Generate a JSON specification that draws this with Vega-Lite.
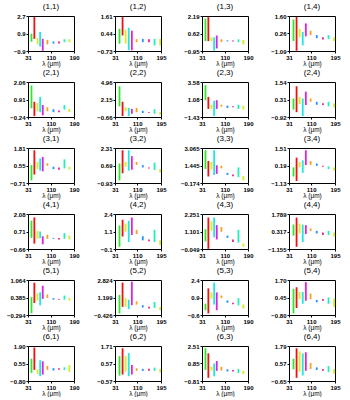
{
"$schema":"https://vega.github.io/schema/vega-lite/v6.json",
"padding":{"left":5,"top":2,"right":0,"bottom":0},
"background":"white",
"config":{
 "view":{"stroke":"black","strokeWidth":1},
 "range":{"category":["#2ee82e","#ee1111","#f2e41c","#22e5e5","#e020e0","#f5a020","#1e90ff","#f0209a","#22eebb","#ccee22"]},
 "axis":{"grid":false,"domain":false,"labelFont":"Liberation Sans","labelFontSize":6,"labelFontWeight":"bold","labelColor":"black","tickColor":"black","tickSize":2,"labelPadding":1,"titleFont":"Liberation Sans","titleFontSize":6.5,"titleFontWeight":"normal","titleColor":"black","titlePadding":0,"labelOverlap":false,"labelBound":false,"labelFlush":false},
 "title":{"font":"Liberation Sans","fontSize":8,"fontWeight":"normal","color":"black","offset":2},
 "rule":{"strokeWidth":1.8}
},
"datasets":{"d":[
{"p":"11","x":43,"lo":0.05,"hi":0.88,"k":1},{"p":"11","x":53,"lo":0.35,"hi":2.59,"k":2},{"p":"11","x":64,"lo":-0.22,"hi":0.43,"k":3},{"p":"11","x":73,"lo":-0.45,"hi":1.07,"k":4},{"p":"11","x":82,"lo":-0.88,"hi":0.35,"k":5},{"p":"11","x":98,"lo":-0.22,"hi":0.24,"k":6},{"p":"11","x":119,"lo":-0.14,"hi":0.08,"k":7},{"p":"11","x":138,"lo":-0.14,"hi":0.08,"k":8},{"p":"11","x":157,"lo":0.0,"hi":0.31,"k":9},{"p":"11","x":174,"lo":0.0,"hi":0.31,"k":10},
{"p":"12","x":47,"lo":-0.24,"hi":0.75,"k":1},{"p":"12","x":58,"lo":0.31,"hi":1.54,"k":2},{"p":"12","x":69,"lo":-0.24,"hi":0.68,"k":3},{"p":"12","x":80,"lo":-0.68,"hi":0.82,"k":4},{"p":"12","x":91,"lo":-0.68,"hi":0.63,"k":5},{"p":"12","x":108,"lo":-0.14,"hi":0.06,"k":6},{"p":"12","x":130,"lo":-0.14,"hi":0.08,"k":7},{"p":"12","x":152,"lo":-0.14,"hi":0.06,"k":8},{"p":"12","x":172,"lo":-0.36,"hi":0.08,"k":9},{"p":"12","x":192,"lo":-0.36,"hi":0.08,"k":10},
{"p":"13","x":43,"lo":-0.06,"hi":1.96,"k":1},{"p":"13","x":53,"lo":-0.06,"hi":2.09,"k":2},{"p":"13","x":64,"lo":-0.06,"hi":0.27,"k":3},{"p":"13","x":73,"lo":-0.93,"hi":0.27,"k":4},{"p":"13","x":82,"lo":-0.72,"hi":0.44,"k":5},{"p":"13","x":98,"lo":-0.16,"hi":0.10,"k":6},{"p":"13","x":119,"lo":-0.09,"hi":0.0,"k":7},{"p":"13","x":138,"lo":-0.09,"hi":0.0,"k":8},{"p":"13","x":157,"lo":-0.16,"hi":0.10,"k":9},{"p":"13","x":174,"lo":-0.36,"hi":0.04,"k":10},
{"p":"14","x":47,"lo":-0.32,"hi":1.32,"k":1},{"p":"14","x":58,"lo":-1.07,"hi":1.52,"k":2},{"p":"14","x":69,"lo":-0.04,"hi":0.61,"k":3},{"p":"14","x":80,"lo":-0.66,"hi":0.38,"k":4},{"p":"14","x":91,"lo":0.04,"hi":1.03,"k":5},{"p":"14","x":108,"lo":0.13,"hi":0.47,"k":6},{"p":"14","x":130,"lo":-0.10,"hi":0.13,"k":7},{"p":"14","x":152,"lo":-0.21,"hi":-0.04,"k":8},{"p":"14","x":172,"lo":-0.18,"hi":0.13,"k":9},{"p":"14","x":192,"lo":-0.32,"hi":-0.04,"k":10},
{"p":"21","x":43,"lo":0.33,"hi":1.83,"k":1},{"p":"21","x":53,"lo":-0.18,"hi":0.76,"k":2},{"p":"21","x":64,"lo":0.14,"hi":0.68,"k":3},{"p":"21","x":73,"lo":0.08,"hi":1.08,"k":4},{"p":"21","x":82,"lo":-0.13,"hi":0.55,"k":5},{"p":"21","x":98,"lo":0.14,"hi":0.40,"k":6},{"p":"21","x":119,"lo":0.08,"hi":0.27,"k":7},{"p":"21","x":138,"lo":0.08,"hi":0.19,"k":8},{"p":"21","x":157,"lo":0.25,"hi":0.55,"k":9},{"p":"21","x":174,"lo":0.08,"hi":0.29,"k":10},
{"p":"22","x":47,"lo":1.06,"hi":4.28,"k":1},{"p":"22","x":58,"lo":-0.5,"hi":1.79,"k":2},{"p":"22","x":69,"lo":0.28,"hi":0.9,"k":3},{"p":"22","x":80,"lo":-0.5,"hi":0.8,"k":4},{"p":"22","x":91,"lo":-0.14,"hi":0.64,"k":5},{"p":"22","x":108,"lo":0.12,"hi":0.8,"k":6},{"p":"22","x":130,"lo":-0.03,"hi":0.33,"k":7},{"p":"22","x":152,"lo":-0.03,"hi":0.12,"k":8},{"p":"22","x":172,"lo":-0.14,"hi":0.59,"k":9},{"p":"22","x":192,"lo":-0.29,"hi":0.12,"k":10},
{"p":"23","x":43,"lo":0.98,"hi":3.12,"k":1},{"p":"23","x":53,"lo":-0.27,"hi":1.45,"k":2},{"p":"23","x":64,"lo":-0.27,"hi":0.33,"k":3},{"p":"23","x":73,"lo":-1.29,"hi":0.89,"k":4},{"p":"23","x":82,"lo":-0.27,"hi":0.98,"k":5},{"p":"23","x":98,"lo":0.05,"hi":0.33,"k":6},{"p":"23","x":119,"lo":-0.13,"hi":0.19,"k":7},{"p":"23","x":138,"lo":-0.04,"hi":0.10,"k":8},{"p":"23","x":157,"lo":-0.27,"hi":0.33,"k":9},{"p":"23","x":174,"lo":-0.36,"hi":0.19,"k":10},
{"p":"24","x":47,"lo":-0.4,"hi":0.38,"k":1},{"p":"24","x":58,"lo":-0.58,"hi":1.24,"k":2},{"p":"24","x":69,"lo":-0.01,"hi":0.49,"k":3},{"p":"24","x":80,"lo":-0.85,"hi":0.38,"k":4},{"p":"24","x":91,"lo":-0.08,"hi":0.86,"k":5},{"p":"24","x":108,"lo":0.15,"hi":0.38,"k":6},{"p":"24","x":130,"lo":-0.06,"hi":0.15,"k":7},{"p":"24","x":152,"lo":-0.08,"hi":0.04,"k":8},{"p":"24","x":172,"lo":-0.17,"hi":0.15,"k":9},{"p":"24","x":192,"lo":-0.24,"hi":0.04,"k":10},
{"p":"31","x":43,"lo":-0.52,"hi":0.58,"k":1},{"p":"31","x":53,"lo":-0.1,"hi":1.65,"k":2},{"p":"31","x":64,"lo":0.29,"hi":0.81,"k":3},{"p":"31","x":73,"lo":0.18,"hi":1.06,"k":4},{"p":"31","x":82,"lo":0.13,"hi":1.16,"k":5},{"p":"31","x":98,"lo":0.53,"hi":0.71,"k":6},{"p":"31","x":119,"lo":0.29,"hi":0.46,"k":7},{"p":"31","x":138,"lo":0.25,"hi":0.41,"k":8},{"p":"31","x":157,"lo":0.34,"hi":0.99,"k":9},{"p":"31","x":174,"lo":0.25,"hi":0.46,"k":10},
{"p":"32","x":47,"lo":-0.69,"hi":0.87,"k":1},{"p":"32","x":58,"lo":-0.03,"hi":2.1,"k":2},{"p":"32","x":69,"lo":0.57,"hi":1.02,"k":3},{"p":"32","x":80,"lo":0.21,"hi":2.1,"k":4},{"p":"32","x":91,"lo":0.3,"hi":1.56,"k":5},{"p":"32","x":108,"lo":0.75,"hi":1.02,"k":6},{"p":"32","x":130,"lo":0.51,"hi":0.72,"k":7},{"p":"32","x":152,"lo":0.42,"hi":0.51,"k":8},{"p":"32","x":172,"lo":0.27,"hi":0.96,"k":9},{"p":"32","x":192,"lo":0.06,"hi":0.36,"k":10},
{"p":"33","x":43,"lo":1.12,"hi":2.86,"k":1},{"p":"33","x":53,"lo":0.43,"hi":1.87,"k":2},{"p":"33","x":64,"lo":1.06,"hi":1.78,"k":3},{"p":"33","x":73,"lo":0.57,"hi":2.86,"k":4},{"p":"33","x":82,"lo":0.67,"hi":1.47,"k":5},{"p":"33","x":98,"lo":1.18,"hi":1.42,"k":6},{"p":"33","x":119,"lo":0.57,"hi":0.76,"k":7},{"p":"33","x":138,"lo":0.46,"hi":0.61,"k":8},{"p":"33","x":157,"lo":0.37,"hi":1.27,"k":9},{"p":"33","x":174,"lo":0.07,"hi":0.46,"k":10},
{"p":"34","x":47,"lo":-0.64,"hi":0.05,"k":1},{"p":"34","x":58,"lo":-0.98,"hi":0.78,"k":2},{"p":"34","x":69,"lo":0.05,"hi":0.46,"k":3},{"p":"34","x":80,"lo":-0.37,"hi":0.58,"k":4},{"p":"34","x":91,"lo":0.22,"hi":1.34,"k":5},{"p":"34","x":108,"lo":0.24,"hi":0.53,"k":6},{"p":"34","x":130,"lo":0.17,"hi":0.34,"k":7},{"p":"34","x":152,"lo":0.09,"hi":0.17,"k":8},{"p":"34","x":172,"lo":-0.08,"hi":0.12,"k":9},{"p":"34","x":192,"lo":-0.2,"hi":0.05,"k":10},
{"p":"41","x":43,"lo":0.21,"hi":1.56,"k":1},{"p":"41","x":53,"lo":-0.24,"hi":1.81,"k":2},{"p":"41","x":64,"lo":0.14,"hi":0.76,"k":3},{"p":"41","x":73,"lo":0.19,"hi":0.71,"k":4},{"p":"41","x":82,"lo":-0.29,"hi":0.34,"k":5},{"p":"41","x":98,"lo":0.14,"hi":0.46,"k":6},{"p":"41","x":119,"lo":0.14,"hi":0.21,"k":7},{"p":"41","x":138,"lo":0.09,"hi":0.21,"k":8},{"p":"41","x":157,"lo":0.14,"hi":0.59,"k":9},{"p":"41","x":174,"lo":0.09,"hi":0.39,"k":10},
{"p":"42","x":47,"lo":0.06,"hi":1.58,"k":1},{"p":"42","x":58,"lo":0.79,"hi":1.99,"k":2},{"p":"42","x":69,"lo":1.13,"hi":1.72,"k":3},{"p":"42","x":80,"lo":0.4,"hi":1.92,"k":4},{"p":"42","x":91,"lo":0.9,"hi":2.15,"k":5},{"p":"42","x":108,"lo":0.97,"hi":1.27,"k":6},{"p":"42","x":130,"lo":0.52,"hi":0.81,"k":7},{"p":"42","x":152,"lo":0.45,"hi":0.58,"k":8},{"p":"42","x":172,"lo":0.4,"hi":1.27,"k":9},{"p":"42","x":192,"lo":0.18,"hi":0.52,"k":10},
{"p":"43","x":43,"lo":0.45,"hi":1.25,"k":1},{"p":"43","x":53,"lo":-0.04,"hi":2.02,"k":2},{"p":"43","x":64,"lo":1.14,"hi":1.77,"k":3},{"p":"43","x":73,"lo":0.72,"hi":2.02,"k":4},{"p":"43","x":82,"lo":0.58,"hi":1.52,"k":5},{"p":"43","x":98,"lo":1.08,"hi":1.39,"k":6},{"p":"43","x":119,"lo":0.68,"hi":0.83,"k":7},{"p":"43","x":138,"lo":0.41,"hi":0.58,"k":8},{"p":"43","x":157,"lo":0.37,"hi":1.21,"k":9},{"p":"43","x":174,"lo":0.1,"hi":0.31,"k":10},
{"p":"44","x":47,"lo":-0.03,"hi":0.9,"k":1},{"p":"44","x":58,"lo":-0.97,"hi":1.49,"k":2},{"p":"44","x":69,"lo":0.15,"hi":0.98,"k":3},{"p":"44","x":80,"lo":-0.57,"hi":0.9,"k":4},{"p":"44","x":91,"lo":0.1,"hi":0.85,"k":5},{"p":"44","x":108,"lo":0.37,"hi":0.58,"k":6},{"p":"44","x":130,"lo":0.15,"hi":0.37,"k":7},{"p":"44","x":152,"lo":0.02,"hi":0.23,"k":8},{"p":"44","x":172,"lo":0.02,"hi":0.37,"k":9},{"p":"44","x":192,"lo":-0.11,"hi":0.23,"k":10},
{"p":"51","x":43,"lo":-0.23,"hi":0.4,"k":1},{"p":"51","x":53,"lo":0.17,"hi":0.96,"k":2},{"p":"51","x":64,"lo":0.27,"hi":0.55,"k":3},{"p":"51","x":73,"lo":0.08,"hi":0.59,"k":4},{"p":"51","x":82,"lo":0.33,"hi":0.84,"k":5},{"p":"51","x":98,"lo":0.37,"hi":0.5,"k":6},{"p":"51","x":119,"lo":0.3,"hi":0.36,"k":7},{"p":"51","x":138,"lo":0.3,"hi":0.33,"k":8},{"p":"51","x":157,"lo":0.3,"hi":0.46,"k":9},{"p":"51","x":174,"lo":0.27,"hi":0.36,"k":10},
{"p":"52","x":47,"lo":-0.28,"hi":1.44,"k":1},{"p":"52","x":58,"lo":0.33,"hi":2.58,"k":2},{"p":"52","x":69,"lo":0.33,"hi":1.14,"k":3},{"p":"52","x":80,"lo":0.12,"hi":1.0,"k":4},{"p":"52","x":91,"lo":0.48,"hi":2.67,"k":5},{"p":"52","x":108,"lo":0.54,"hi":0.84,"k":6},{"p":"52","x":130,"lo":0.27,"hi":0.48,"k":7},{"p":"52","x":152,"lo":0.17,"hi":0.33,"k":8},{"p":"52","x":172,"lo":0.23,"hi":0.78,"k":9},{"p":"52","x":192,"lo":0.03,"hi":0.33,"k":10},
{"p":"53","x":43,"lo":-0.19,"hi":0.37,"k":1},{"p":"53","x":53,"lo":-0.46,"hi":1.68,"k":2},{"p":"53","x":64,"lo":0.79,"hi":1.34,"k":3},{"p":"53","x":73,"lo":0.29,"hi":2.18,"k":4},{"p":"53","x":82,"lo":-0.19,"hi":1.34,"k":5},{"p":"53","x":98,"lo":0.84,"hi":1.07,"k":6},{"p":"53","x":119,"lo":0.45,"hi":0.65,"k":7},{"p":"53","x":138,"lo":0.32,"hi":0.45,"k":8},{"p":"53","x":157,"lo":0.23,"hi":0.84,"k":9},{"p":"53","x":174,"lo":-0.05,"hi":0.29,"k":10},
{"p":"54","x":47,"lo":-0.69,"hi":1.07,"k":1},{"p":"54","x":58,"lo":-0.3,"hi":1.18,"k":2},{"p":"54","x":69,"lo":0.34,"hi":0.84,"k":3},{"p":"54","x":80,"lo":0.0,"hi":0.84,"k":4},{"p":"54","x":91,"lo":0.22,"hi":1.55,"k":5},{"p":"54","x":108,"lo":0.34,"hi":0.73,"k":6},{"p":"54","x":130,"lo":0.11,"hi":0.27,"k":7},{"p":"54","x":152,"lo":0.22,"hi":0.34,"k":8},{"p":"54","x":172,"lo":0.0,"hi":0.45,"k":9},{"p":"54","x":192,"lo":-0.23,"hi":0.38,"k":10},
{"p":"61","x":43,"lo":-0.18,"hi":0.92,"k":1},{"p":"61","x":53,"lo":0.06,"hi":1.78,"k":2},{"p":"61","x":64,"lo":-0.26,"hi":0.11,"k":3},{"p":"61","x":73,"lo":-0.43,"hi":0.8,"k":4},{"p":"61","x":82,"lo":-0.31,"hi":0.72,"k":5},{"p":"61","x":98,"lo":0.06,"hi":0.36,"k":6},{"p":"61","x":119,"lo":0.01,"hi":0.19,"k":7},{"p":"61","x":138,"lo":0.06,"hi":0.19,"k":8},{"p":"61","x":157,"lo":0.06,"hi":0.26,"k":9},{"p":"61","x":174,"lo":-0.11,"hi":0.43,"k":10},
{"p":"62","x":47,"lo":-0.22,"hi":1.05,"k":1},{"p":"62","x":58,"lo":-0.15,"hi":1.56,"k":2},{"p":"62","x":69,"lo":0.05,"hi":1.05,"k":3},{"p":"62","x":80,"lo":-0.26,"hi":1.25,"k":4},{"p":"62","x":91,"lo":-0.15,"hi":0.47,"k":5},{"p":"62","x":108,"lo":0.09,"hi":0.26,"k":6},{"p":"62","x":130,"lo":0.09,"hi":0.22,"k":7},{"p":"62","x":152,"lo":0.09,"hi":0.22,"k":8},{"p":"62","x":172,"lo":0.09,"hi":0.30,"k":9},{"p":"62","x":192,"lo":-0.01,"hi":0.22,"k":10},
{"p":"63","x":43,"lo":0.24,"hi":2.3,"k":1},{"p":"63","x":53,"lo":-0.51,"hi":1.82,"k":2},{"p":"63","x":64,"lo":0.18,"hi":0.55,"k":3},{"p":"63","x":73,"lo":-0.36,"hi":0.85,"k":4},{"p":"63","x":82,"lo":0.15,"hi":1.09,"k":5},{"p":"63","x":98,"lo":0.18,"hi":0.55,"k":6},{"p":"63","x":119,"lo":0.09,"hi":0.3,"k":7},{"p":"63","x":138,"lo":0.09,"hi":0.24,"k":8},{"p":"63","x":157,"lo":-0.06,"hi":0.34,"k":9},{"p":"63","x":174,"lo":-0.15,"hi":0.15,"k":10},
{"p":"64","x":47,"lo":0.17,"hi":0.9,"k":1},{"p":"64","x":58,"lo":-0.43,"hi":1.63,"k":2},{"p":"64","x":69,"lo":0.01,"hi":1.41,"k":3},{"p":"64","x":80,"lo":-0.27,"hi":1.28,"k":4},{"p":"64","x":91,"lo":0.06,"hi":1.35,"k":5},{"p":"64","x":108,"lo":0.19,"hi":0.61,"k":6},{"p":"64","x":130,"lo":0.12,"hi":0.3,"k":7},{"p":"64","x":152,"lo":0.06,"hi":0.19,"k":8},{"p":"64","x":172,"lo":-0.03,"hi":0.39,"k":9},{"p":"64","x":192,"lo":-0.14,"hi":0.19,"k":10}
]},
"columns":4,
"spacing":{"row":31,"column":41},
"bounds":"flush",
"concat":[
{"title":"(1,1)","width":46,"height":35,"data":{"name":"d"},"transform":[{"filter":"datum.p=='11'"}],"mark":"rule","encoding":{"x":{"field":"x","type":"quantitative","scale":{"domain":[31,190],"nice":false},"axis":{"values":[31,110,190],"format":"d","title":"λ (μm)"}},"y":{"field":"lo","type":"quantitative","scale":{"domain":[-0.9,2.7],"nice":false,"zero":false},"axis":{"values":[-0.9,0.9,2.7],"format":".1f","title":null}},"y2":{"field":"hi"},"color":{"field":"k","type":"nominal","legend":null}}},
{"title":"(1,2)","width":46,"height":35,"data":{"name":"d"},"transform":[{"filter":"datum.p=='12'"}],"mark":"rule","encoding":{"x":{"field":"x","type":"quantitative","scale":{"domain":[31,195],"nice":false},"axis":{"values":[31,110,195],"format":"d","title":"λ (μm)"}},"y":{"field":"lo","type":"quantitative","scale":{"domain":[-0.73,1.61],"nice":false,"zero":false},"axis":{"values":[-0.73,0.44,1.61],"format":".2f","title":null}},"y2":{"field":"hi"},"color":{"field":"k","type":"nominal","legend":null}}},
{"title":"(1,3)","width":46,"height":35,"data":{"name":"d"},"transform":[{"filter":"datum.p=='13'"}],"mark":"rule","encoding":{"x":{"field":"x","type":"quantitative","scale":{"domain":[31,190],"nice":false},"axis":{"values":[31,110,190],"format":"d","title":"λ (μm)"}},"y":{"field":"lo","type":"quantitative","scale":{"domain":[-0.95,2.19],"nice":false,"zero":false},"axis":{"values":[-0.95,0.62,2.19],"format":".2f","title":null}},"y2":{"field":"hi"},"color":{"field":"k","type":"nominal","legend":null}}},
{"title":"(1,4)","width":46,"height":35,"data":{"name":"d"},"transform":[{"filter":"datum.p=='14'"}],"mark":"rule","encoding":{"x":{"field":"x","type":"quantitative","scale":{"domain":[31,195],"nice":false},"axis":{"values":[31,110,195],"format":"d","title":"λ (μm)"}},"y":{"field":"lo","type":"quantitative","scale":{"domain":[-1.09,1.6],"nice":false,"zero":false},"axis":{"values":[-1.09,0.2551,1.6],"format":".2f","title":null}},"y2":{"field":"hi"},"color":{"field":"k","type":"nominal","legend":null}}},
{"title":"(2,1)","width":46,"height":35,"data":{"name":"d"},"transform":[{"filter":"datum.p=='21'"}],"mark":"rule","encoding":{"x":{"field":"x","type":"quantitative","scale":{"domain":[31,190],"nice":false},"axis":{"values":[31,110,190],"format":"d","title":"λ (μm)"}},"y":{"field":"lo","type":"quantitative","scale":{"domain":[-0.24,2.06],"nice":false,"zero":false},"axis":{"values":[-0.24,0.91,2.06],"format":".2f","title":null}},"y2":{"field":"hi"},"color":{"field":"k","type":"nominal","legend":null}}},
{"title":"(2,2)","width":46,"height":35,"data":{"name":"d"},"transform":[{"filter":"datum.p=='22'"}],"mark":"rule","encoding":{"x":{"field":"x","type":"quantitative","scale":{"domain":[31,195],"nice":false},"axis":{"values":[31,110,195],"format":"d","title":"λ (μm)"}},"y":{"field":"lo","type":"quantitative","scale":{"domain":[-0.66,4.96],"nice":false,"zero":false},"axis":{"values":[-0.66,2.15,4.96],"format":".2f","title":null}},"y2":{"field":"hi"},"color":{"field":"k","type":"nominal","legend":null}}},
{"title":"(2,3)","width":46,"height":35,"data":{"name":"d"},"transform":[{"filter":"datum.p=='23'"}],"mark":"rule","encoding":{"x":{"field":"x","type":"quantitative","scale":{"domain":[31,190],"nice":false},"axis":{"values":[31,110,190],"format":"d","title":"λ (μm)"}},"y":{"field":"lo","type":"quantitative","scale":{"domain":[-1.43,3.58],"nice":false,"zero":false},"axis":{"values":[-1.43,1.0751,3.58],"format":".2f","title":null}},"y2":{"field":"hi"},"color":{"field":"k","type":"nominal","legend":null}}},
{"title":"(2,4)","width":46,"height":35,"data":{"name":"d"},"transform":[{"filter":"datum.p=='24'"}],"mark":"rule","encoding":{"x":{"field":"x","type":"quantitative","scale":{"domain":[31,195],"nice":false},"axis":{"values":[31,110,195],"format":"d","title":"λ (μm)"}},"y":{"field":"lo","type":"quantitative","scale":{"domain":[-0.92,1.54],"nice":false,"zero":false},"axis":{"values":[-0.92,0.31,1.54],"format":".2f","title":null}},"y2":{"field":"hi"},"color":{"field":"k","type":"nominal","legend":null}}},
{"title":"(3,1)","width":46,"height":35,"data":{"name":"d"},"transform":[{"filter":"datum.p=='31'"}],"mark":"rule","encoding":{"x":{"field":"x","type":"quantitative","scale":{"domain":[31,190],"nice":false},"axis":{"values":[31,110,190],"format":"d","title":"λ (μm)"}},"y":{"field":"lo","type":"quantitative","scale":{"domain":[-0.71,1.81],"nice":false,"zero":false},"axis":{"values":[-0.71,0.55,1.81],"format":".2f","title":null}},"y2":{"field":"hi"},"color":{"field":"k","type":"nominal","legend":null}}},
{"title":"(3,2)","width":46,"height":35,"data":{"name":"d"},"transform":[{"filter":"datum.p=='32'"}],"mark":"rule","encoding":{"x":{"field":"x","type":"quantitative","scale":{"domain":[31,195],"nice":false},"axis":{"values":[31,110,195],"format":"d","title":"λ (μm)"}},"y":{"field":"lo","type":"quantitative","scale":{"domain":[-0.93,2.31],"nice":false,"zero":false},"axis":{"values":[-0.93,0.69,2.31],"format":".2f","title":null}},"y2":{"field":"hi"},"color":{"field":"k","type":"nominal","legend":null}}},
{"title":"(3,3)","width":46,"height":35,"data":{"name":"d"},"transform":[{"filter":"datum.p=='33'"}],"mark":"rule","encoding":{"x":{"field":"x","type":"quantitative","scale":{"domain":[31,190],"nice":false},"axis":{"values":[31,110,190],"format":"d","title":"λ (μm)"}},"y":{"field":"lo","type":"quantitative","scale":{"domain":[-0.174,3.065],"nice":false,"zero":false},"axis":{"values":[-0.174,1.445,3.065],"format":".3f","title":null}},"y2":{"field":"hi"},"color":{"field":"k","type":"nominal","legend":null}}},
{"title":"(3,4)","width":46,"height":35,"data":{"name":"d"},"transform":[{"filter":"datum.p=='34'"}],"mark":"rule","encoding":{"x":{"field":"x","type":"quantitative","scale":{"domain":[31,195],"nice":false},"axis":{"values":[31,110,195],"format":"d","title":"λ (μm)"}},"y":{"field":"lo","type":"quantitative","scale":{"domain":[-1.13,1.51],"nice":false,"zero":false},"axis":{"values":[-1.13,0.19,1.51],"format":".2f","title":null}},"y2":{"field":"hi"},"color":{"field":"k","type":"nominal","legend":null}}},
{"title":"(4,1)","width":46,"height":35,"data":{"name":"d"},"transform":[{"filter":"datum.p=='41'"}],"mark":"rule","encoding":{"x":{"field":"x","type":"quantitative","scale":{"domain":[31,190],"nice":false},"axis":{"values":[31,110,190],"format":"d","title":"λ (μm)"}},"y":{"field":"lo","type":"quantitative","scale":{"domain":[-0.66,2.08],"nice":false,"zero":false},"axis":{"values":[-0.66,0.71,2.08],"format":".2f","title":null}},"y2":{"field":"hi"},"color":{"field":"k","type":"nominal","legend":null}}},
{"title":"(4,2)","width":46,"height":35,"data":{"name":"d"},"transform":[{"filter":"datum.p=='42'"}],"mark":"rule","encoding":{"x":{"field":"x","type":"quantitative","scale":{"domain":[31,195],"nice":false},"axis":{"values":[31,110,195],"format":"d","title":"λ (μm)"}},"y":{"field":"lo","type":"quantitative","scale":{"domain":[-0.1,2.4],"nice":false,"zero":false},"axis":{"values":[-0.1,1.15,2.4],"format":".1f","title":null}},"y2":{"field":"hi"},"color":{"field":"k","type":"nominal","legend":null}}},
{"title":"(4,3)","width":46,"height":35,"data":{"name":"d"},"transform":[{"filter":"datum.p=='43'"}],"mark":"rule","encoding":{"x":{"field":"x","type":"quantitative","scale":{"domain":[31,190],"nice":false},"axis":{"values":[31,110,190],"format":"d","title":"λ (μm)"}},"y":{"field":"lo","type":"quantitative","scale":{"domain":[-0.049,2.251],"nice":false,"zero":false},"axis":{"values":[-0.049,1.101,2.251],"format":".3f","title":null}},"y2":{"field":"hi"},"color":{"field":"k","type":"nominal","legend":null}}},
{"title":"(4,4)","width":46,"height":35,"data":{"name":"d"},"transform":[{"filter":"datum.p=='44'"}],"mark":"rule","encoding":{"x":{"field":"x","type":"quantitative","scale":{"domain":[31,195],"nice":false},"axis":{"values":[31,110,195],"format":"d","title":"λ (μm)"}},"y":{"field":"lo","type":"quantitative","scale":{"domain":[-1.155,1.789],"nice":false,"zero":false},"axis":{"values":[-1.155,0.317,1.789],"format":".3f","title":null}},"y2":{"field":"hi"},"color":{"field":"k","type":"nominal","legend":null}}},
{"title":"(5,1)","width":46,"height":35,"data":{"name":"d"},"transform":[{"filter":"datum.p=='51'"}],"mark":"rule","encoding":{"x":{"field":"x","type":"quantitative","scale":{"domain":[31,190],"nice":false},"axis":{"values":[31,110,190],"format":"d","title":"λ (μm)"}},"y":{"field":"lo","type":"quantitative","scale":{"domain":[-0.294,1.064],"nice":false,"zero":false},"axis":{"values":[-0.294,0.385,1.064],"format":".3f","title":null}},"y2":{"field":"hi"},"color":{"field":"k","type":"nominal","legend":null}}},
{"title":"(5,2)","width":46,"height":35,"data":{"name":"d"},"transform":[{"filter":"datum.p=='52'"}],"mark":"rule","encoding":{"x":{"field":"x","type":"quantitative","scale":{"domain":[31,195],"nice":false},"axis":{"values":[31,110,195],"format":"d","title":"λ (μm)"}},"y":{"field":"lo","type":"quantitative","scale":{"domain":[-0.426,2.824],"nice":false,"zero":false},"axis":{"values":[-0.426,1.199,2.824],"format":".3f","title":null}},"y2":{"field":"hi"},"color":{"field":"k","type":"nominal","legend":null}}},
{"title":"(5,3)","width":46,"height":35,"data":{"name":"d"},"transform":[{"filter":"datum.p=='53'"}],"mark":"rule","encoding":{"x":{"field":"x","type":"quantitative","scale":{"domain":[31,190],"nice":false},"axis":{"values":[31,110,190],"format":"d","title":"λ (μm)"}},"y":{"field":"lo","type":"quantitative","scale":{"domain":[-0.6,2.4],"nice":false,"zero":false},"axis":{"values":[-0.6,0.9,2.4],"format":".1f","title":null}},"y2":{"field":"hi"},"color":{"field":"k","type":"nominal","legend":null}}},
{"title":"(5,4)","width":46,"height":35,"data":{"name":"d"},"transform":[{"filter":"datum.p=='54'"}],"mark":"rule","encoding":{"x":{"field":"x","type":"quantitative","scale":{"domain":[31,195],"nice":false},"axis":{"values":[31,110,195],"format":"d","title":"λ (μm)"}},"y":{"field":"lo","type":"quantitative","scale":{"domain":[-0.8,1.7],"nice":false,"zero":false},"axis":{"values":[-0.8,0.45,1.7],"format":".2f","title":null}},"y2":{"field":"hi"},"color":{"field":"k","type":"nominal","legend":null}}},
{"title":"(6,1)","width":46,"height":35,"data":{"name":"d"},"transform":[{"filter":"datum.p=='61'"}],"mark":"rule","encoding":{"x":{"field":"x","type":"quantitative","scale":{"domain":[31,190],"nice":false},"axis":{"values":[31,110,190],"format":"d","title":"λ (μm)"}},"y":{"field":"lo","type":"quantitative","scale":{"domain":[-0.8,1.9],"nice":false,"zero":false},"axis":{"values":[-0.8,0.55,1.9],"format":".2f","title":null}},"y2":{"field":"hi"},"color":{"field":"k","type":"nominal","legend":null}}},
{"title":"(6,2)","width":46,"height":35,"data":{"name":"d"},"transform":[{"filter":"datum.p=='62'"}],"mark":"rule","encoding":{"x":{"field":"x","type":"quantitative","scale":{"domain":[31,195],"nice":false},"axis":{"values":[31,110,195],"format":"d","title":"λ (μm)"}},"y":{"field":"lo","type":"quantitative","scale":{"domain":[-0.57,1.71],"nice":false,"zero":false},"axis":{"values":[-0.57,0.57,1.71],"format":".2f","title":null}},"y2":{"field":"hi"},"color":{"field":"k","type":"nominal","legend":null}}},
{"title":"(6,3)","width":46,"height":35,"data":{"name":"d"},"transform":[{"filter":"datum.p=='63'"}],"mark":"rule","encoding":{"x":{"field":"x","type":"quantitative","scale":{"domain":[31,190],"nice":false},"axis":{"values":[31,110,190],"format":"d","title":"λ (μm)"}},"y":{"field":"lo","type":"quantitative","scale":{"domain":[-0.81,2.51],"nice":false,"zero":false},"axis":{"values":[-0.81,0.85,2.51],"format":".2f","title":null}},"y2":{"field":"hi"},"color":{"field":"k","type":"nominal","legend":null}}},
{"title":"(6,4)","width":46,"height":35,"data":{"name":"d"},"transform":[{"filter":"datum.p=='64'"}],"mark":"rule","encoding":{"x":{"field":"x","type":"quantitative","scale":{"domain":[31,195],"nice":false},"axis":{"values":[31,110,195],"format":"d","title":"λ (μm)"}},"y":{"field":"lo","type":"quantitative","scale":{"domain":[-0.65,1.79],"nice":false,"zero":false},"axis":{"values":[-0.65,0.57,1.79],"format":".2f","title":null}},"y2":{"field":"hi"},"color":{"field":"k","type":"nominal","legend":null}}}
]
}
